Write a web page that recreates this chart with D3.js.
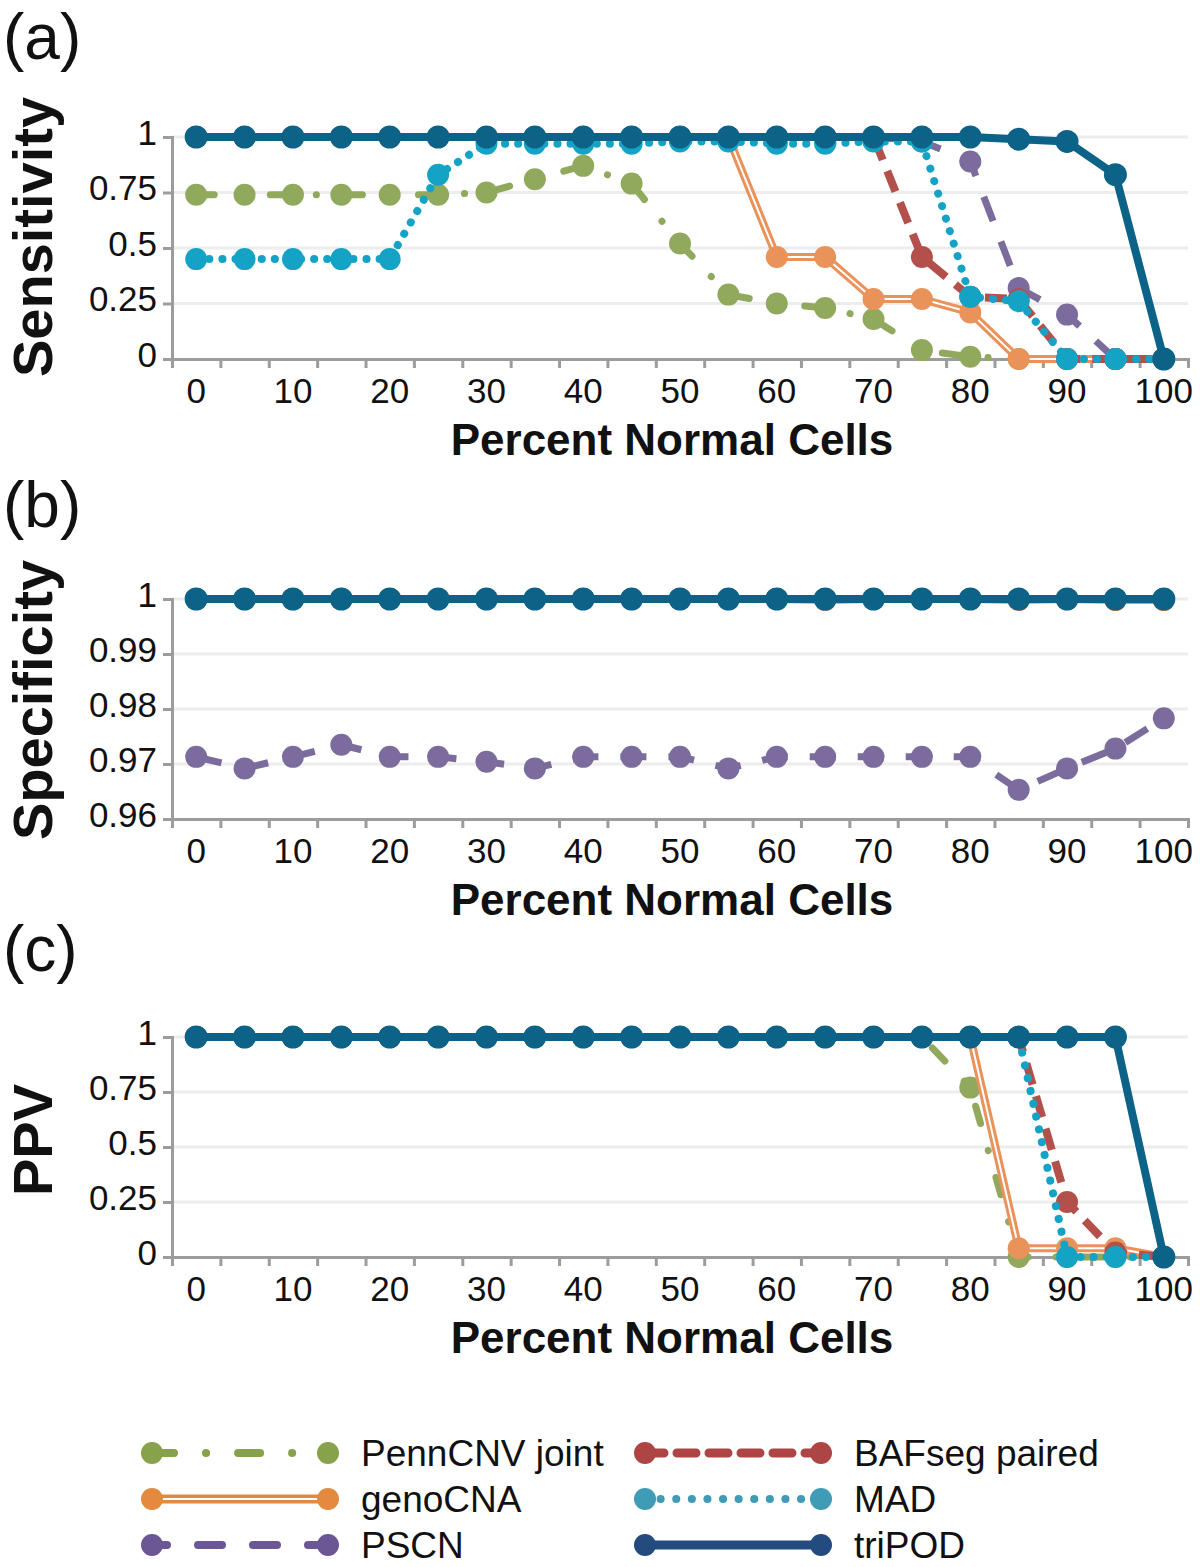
<!DOCTYPE html>
<html><head><meta charset="utf-8">
<script src="https://cdn.jsdelivr.net/npm/d3@7"></script>
<style>
html,body{margin:0;padding:0;background:#fff;}
text{font-family:"Liberation Sans",Arial,Helvetica,sans-serif;}
</style></head>
<body>
<svg id="chart" width="1200" height="1567"></svg>
<script>
// ---------- data ----------
const categories = ["0","5","10","15","20","25","30","35","40","45","50","55","60","65","70","75","80","85","90","95","100"];
const xTickLabels = ["0","10","20","30","40","50","60","70","80","90","100"];
const seriesNames = ["PennCNV joint","genoCNA","PSCN","BAFseg paired","MAD","triPOD"];

const sensTicks = [0,0.25,0.5,0.75,1];
const sensTickLabels = ["0","0.25","0.5","0.75","1"];
const specTicks = [0.96,0.97,0.98,0.99,1];
const specTickLabels = ["0.96","0.97","0.98","0.99","1"];
const ppvTicks = [0,0.25,0.5,0.75,1];
const ppvTickLabels = ["0","0.25","0.5","0.75","1"];

// Sensitivity
const pennSens   = [0.74,0.74,0.74,0.74,0.74,0.74,0.75,0.81,0.87,0.79,0.52,0.29,0.25,0.23,0.18,0.04,0.01,0,0,0,0];
const genoSens   = [1,1,1,1,1,1,1,1,1,1,1,1,0.46,0.46,0.27,0.27,0.21,0,0,0,0];
const pscnSens   = [1,1,1,1,1,1,1,1,1,1,1,1,1,1,1,0.98,0.89,0.32,0.2,0,0];
const bafSens    = [1,1,1,1,1,1,1,1,1,1,1,1,1,1,1,0.46,0.28,0.27,0,0,0];
const madSens    = [0.45,0.45,0.45,0.45,0.45,0.83,0.97,0.97,0.97,0.97,0.98,0.98,0.97,0.97,0.98,0.98,0.28,0.26,0,0,0];
const tripodSens = [1,1,1,1,1,1,1,1,1,1,1,1,1,1,1,1,1,0.99,0.98,0.83,0];

// Specificity
const pennSpec   = [1,1,1,1,1,1,1,1,1,1,1,1,1,1,1,1,1,1,1,1,1];
const genoSpec   = [1,1,1,1,1,1,1,1,1,1,1,1,1,0.9998,1,1,1,0.9998,1,0.9998,0.9998];
const pscnSpec   = [0.9713,0.9692,0.9713,0.9735,0.9713,0.9713,0.9704,0.9692,0.9713,0.9713,0.9713,0.9692,0.9713,0.9713,0.9713,0.9713,0.9713,0.9653,0.9692,0.9728,0.9783];
const bafSpec    = [1,1,1,1,1,1,1,1,1,1,1,1,1,1,1,1,1,1,1,1,1];
const madSpec    = [1,1,1,1,1,1,1,1,1,1,1,1,1,1,1,1,1,1,1,1,1];
const tripodSpec = [1,1,1,1,1,1,1,1,1,1,1,1,1,1,1,1,1,1,1,1,1];

// PPV
const pennPPV   = [1,1,1,1,1,1,1,1,1,1,1,1,1,1,1,1,0.77,0,0,0,0];
const genoPPV   = [1,1,1,1,1,1,1,1,1,1,1,1,1,1,1,1,1,0.04,0.04,0.04,0];
const pscnPPV   = [1,1,1,1,1,1,1,1,1,1,1,1,1,1,1,1,1,1,1,1,0];
const bafPPV    = [1,1,1,1,1,1,1,1,1,1,1,1,1,1,1,1,1,1,0.25,0.02,0];
const madPPV    = [1,1,1,1,1,1,1,1,1,1,1,1,1,1,1,1,1,1,0,0,0];
const tripodPPV = [1,1,1,1,1,1,1,1,1,1,1,1,1,1,1,1,1,1,1,1,0];

// ---------- styles ----------
const chartColors  = ["#90a95c","#e9935a","#7b6c9d","#b4504c","#15a3c5","#0c6387"];
const legendColors = ["#86a24a","#e38a3e","#6c5795","#ae4545","#3f9bb6","#234b80"];
const styles = [
  {w:7, dash:"18 28 0.1 28", cap:"round"},
  {w:8, dash:null, cap:"butt", dbl:true},
  {w:7, dash:"26 22", cap:"butt"},
  {w:8, dash:"22 12", cap:"butt"},
  {w:8, dash:"0.1 13", cap:"round"},
  {w:8, dash:null, cap:"butt"}
];

const svg = d3.select("#chart");
const AX = "#9c9c9c";

const x = d3.scaleBand().domain(categories).range([172,1188]).padding(0);
const xb = d3.scaleLinear().domain([0,categories.length]).range([172,1188]);
const cx = c => x(c) + x.bandwidth()/2;

function panel(cfg){
  const y = d3.scaleLinear().domain(cfg.domain).range([cfg.y0, cfg.y1]);
  const g = svg.append("g");
  // grid
  g.selectAll("line.grid").data(cfg.ticks.filter(t=>t!==cfg.domain[0])).enter()
    .append("line").attr("x1",172).attr("x2",1188)
    .attr("y1",d=>y(d)).attr("y2",d=>y(d))
    .attr("stroke","#ededed").attr("stroke-width",3);
  // y axis
  const ya = g.append("g").attr("transform","translate(172,0)")
    .call(d3.axisLeft(y).tickValues(cfg.ticks).tickSize(9).tickPadding(6)
      .tickFormat((d,i)=>cfg.labels[i]));
  ya.select(".domain").attr("stroke",AX).attr("stroke-width",3);
  ya.selectAll(".tick line").attr("stroke",AX).attr("stroke-width",3);
  ya.selectAll(".tick text").attr("font-size",35).attr("fill","#111").attr("dy","0.2em");
  // x axis ticks at boundaries
  const xa = g.append("g").attr("transform",`translate(0,${cfg.y0})`)
    .call(d3.axisBottom(xb).tickValues(d3.range(categories.length+1)).tickSize(9).tickFormat(""));
  xa.select(".domain").attr("stroke",AX).attr("stroke-width",3);
  xa.selectAll(".tick line").attr("stroke",AX).attr("stroke-width",3);
  const xl = g.append("g").attr("transform",`translate(0,${cfg.y0})`)
    .call(d3.axisBottom(x).tickValues(xTickLabels).tickSize(0).tickPadding(19));
  xl.select(".domain").remove();
  xl.selectAll(".tick text").attr("font-size",35).attr("fill","#111");
  // x title
  g.append("text").attr("x",672).attr("y",cfg.y0+96).attr("text-anchor","middle")
    .attr("font-size",44).attr("font-weight","bold").attr("fill","#111").text("Percent Normal Cells");
  // y title
  g.append("text").attr("transform",`translate(52,${cfg.yTitleC}) rotate(-90)`)
    .attr("text-anchor","middle").attr("font-size",cfg.yTitleSize).attr("font-weight","bold")
    .attr("fill","#111").text(cfg.yTitle);
  // panel letter
  g.append("text").attr("x",3).attr("y",cfg.letterY).attr("font-size",64).attr("fill","#111").text(cfg.letter);
  // series
  const line = d3.line().x((d,i)=>cx(categories[i])).y(d=>y(d));
  cfg.series.forEach((vals,k)=>{
    const st = styles[k], col = chartColors[k];
    const sg = g.append("g");
    sg.append("path").attr("d",line(vals)).attr("fill","none").attr("stroke",col)
      .attr("stroke-width",st.w).attr("stroke-linecap",st.cap).attr("stroke-linejoin","round")
      .attr("stroke-dasharray",st.dash);
    if(st.dbl){
      sg.append("path").attr("d",line(vals)).attr("fill","none").attr("stroke","#fff")
        .attr("stroke-width",2).attr("stroke-linejoin","round");
    }
    sg.selectAll("circle").data(vals).enter().append("circle")
      .attr("cx",(d,i)=>cx(categories[i])).attr("cy",d=>y(d)).attr("r",k===5?11.5:11).attr("fill",col);
  });
}

panel({domain:[0,1],y0:359,y1:137,ticks:sensTicks,labels:sensTickLabels,
  yTitle:"Sensitivity",yTitleC:237,yTitleSize:56,letter:"(a)",letterY:59,
  series:[pennSens,genoSens,pscnSens,bafSens,madSens,tripodSens]});
panel({domain:[0.96,1],y0:819,y1:599,ticks:specTicks,labels:specTickLabels,
  yTitle:"Specificity",yTitleC:700,yTitleSize:56,letter:"(b)",letterY:527,
  series:[pennSpec,genoSpec,pscnSpec,bafSpec,madSpec,tripodSpec]});
panel({domain:[0,1],y0:1257,y1:1037,ticks:ppvTicks,labels:ppvTickLabels,
  yTitle:"PPV",yTitleC:1140,yTitleSize:56,letter:"(c)",letterY:971,
  series:[pennPPV,genoPPV,pscnPPV,bafPPV,madPPV,tripodPPV]});

// ---------- legend ----------
const legStyles = [
  {w:8, dash:"22 32 0.1 32", off:0, cap:"round"},
  {w:9, dash:null, off:0, cap:"butt", dbl:true},
  {w:8, dash:"24 31", off:9, cap:"round"},
  {w:9, dash:"19 13", off:0, cap:"round"},
  {w:8, dash:"0.1 15.5", off:0, cap:"round"},
  {w:9, dash:null, off:0, cap:"butt"}
];
const legPos = [
  {x:152,y:1453},{x:152,y:1499},{x:152,y:1545},
  {x:645,y:1453},{x:645,y:1499},{x:645,y:1545}
];
const lg = svg.append("g");
seriesNames.forEach((name,k)=>{
  const p = legPos[k], st = legStyles[k], col = legendColors[k];
  const x1 = p.x, x2 = p.x+176;
  lg.append("line").attr("x1",x1).attr("x2",x2).attr("y1",p.y).attr("y2",p.y)
    .attr("stroke",col).attr("stroke-width",st.w).attr("stroke-linecap",st.cap)
    .attr("stroke-dasharray",st.dash).attr("stroke-dashoffset",st.off);
  if(st.dbl) lg.append("line").attr("x1",x1).attr("x2",x2).attr("y1",p.y).attr("y2",p.y)
    .attr("stroke","#fff").attr("stroke-width",2);
  lg.append("circle").attr("cx",x1).attr("cy",p.y).attr("r",11).attr("fill",col);
  lg.append("circle").attr("cx",x2).attr("cy",p.y).attr("r",11).attr("fill",col);
  lg.append("text").attr("x",x2+33).attr("y",p.y).attr("dy","0.36em").attr("font-size",37)
    .attr("fill","#111").text(name);
});
</script>
</body></html>
